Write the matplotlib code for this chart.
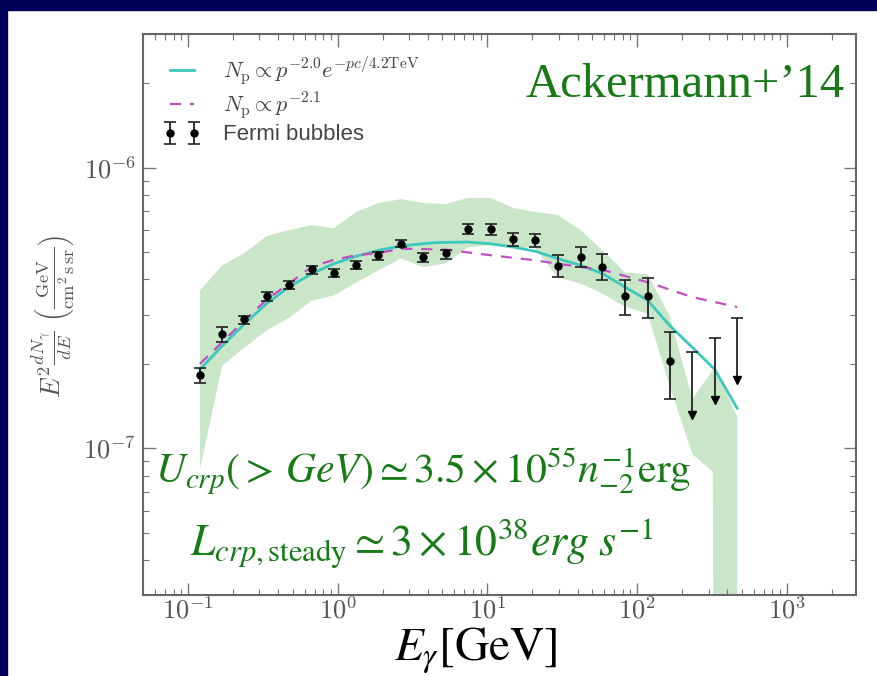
import numpy as np
import matplotlib.pyplot as plt
from matplotlib.patches import Rectangle
from matplotlib.ticker import FixedLocator, FuncFormatter, LogLocator, NullFormatter

plt.rcParams['mathtext.fontset'] = 'cm'

# Fermi bubbles spectrum, E [GeV] and E^2 dN/dE [GeV cm^-2 s^-1 sr^-1]
energy = [0.120, 0.169, 0.237, 0.335, 0.473, 0.668, 0.94, 1.33, 1.87, 2.66, 3.72,
          5.27, 7.43, 10.5, 14.9, 20.9, 29.5, 41.9, 58.7, 82.8, 117.7, 165]
flux = [1.82e-7, 2.56e-7, 2.89e-7, 3.50e-7, 3.83e-7, 4.35e-7, 4.21e-7, 4.50e-7,
        4.88e-7, 5.37e-7, 4.81e-7, 4.95e-7, 6.04e-7, 6.04e-7, 5.57e-7, 5.52e-7,
        4.45e-7, 4.81e-7, 4.43e-7, 3.48e-7, 3.48e-7, 2.05e-7]
flux_lo = [1.71e-7, 2.40e-7, 2.78e-7, 3.36e-7, 3.71e-7, 4.19e-7, 4.08e-7, 4.35e-7,
           4.68e-7, 5.20e-7, 4.62e-7, 4.75e-7, 5.80e-7, 5.75e-7, 5.27e-7, 5.20e-7,
           4.08e-7, 4.43e-7, 3.97e-7, 2.99e-7, 2.92e-7, 1.50e-7]
flux_hi = [1.93e-7, 2.70e-7, 2.97e-7, 3.60e-7, 3.95e-7, 4.47e-7, 4.37e-7, 4.64e-7,
           5.01e-7, 5.55e-7, 4.97e-7, 5.11e-7, 6.30e-7, 6.30e-7, 5.88e-7, 5.83e-7,
           4.88e-7, 5.22e-7, 4.91e-7, 3.97e-7, 4.04e-7, 2.59e-7]

# upper limits in the last bins
ul_energy = [234, 330, 466]
ul_flux = [2.20e-7, 2.47e-7, 2.92e-7]

# systematic band
band_energy = [0.120, 0.169, 0.237, 0.335, 0.473, 0.668, 0.94, 1.33, 1.87, 2.66,
               3.72, 5.27, 7.43, 10.5, 14.9, 20.9, 29.5, 41.9, 58.7, 82.8, 117.7,
               165, 234, 320, 330, 466]
band_hi = [3.65e-7, 4.49e-7, 4.96e-7, 5.71e-7, 6.00e-7, 6.25e-7, 6.09e-7, 6.96e-7,
           7.49e-7, 7.74e-7, 7.49e-7, 7.43e-7, 7.81e-7, 7.81e-7, 7.19e-7, 6.96e-7,
           6.79e-7, 6.00e-7, 5.08e-7, 4.24e-7, 4.17e-7, 2.97e-7, 1.50e-7, 1.90e-7,
           1.94e-7, 1.30e-7]
band_lo = [8.41e-8, 1.97e-7, 2.28e-7, 2.63e-7, 2.92e-7, 3.36e-7, 3.51e-7, 3.90e-7,
           4.31e-7, 4.76e-7, 4.42e-7, 4.57e-7, 5.21e-7, 5.30e-7, 5.21e-7, 5.17e-7,
           4.07e-7, 3.87e-7, 3.56e-7, 3.20e-7, 3.02e-7, 1.67e-7, 9.52e-8, 8.27e-8,
           1e-9, 1e-9]

# proton spectrum models
cut_energy = [0.120, 0.169, 0.237, 0.335, 0.473, 0.668, 0.94, 1.33, 1.87, 2.66,
              4.44, 7.43, 10.5, 14.9, 20.9, 29.5, 41.9, 58.7, 82.8, 117.7, 165,
              234, 330, 466]
cut_flux = [1.91e-7, 2.32e-7, 2.77e-7, 3.28e-7, 3.76e-7, 4.19e-7, 4.55e-7, 4.84e-7,
            5.08e-7, 5.27e-7, 5.41e-7, 5.44e-7, 5.36e-7, 5.22e-7, 5.04e-7, 4.75e-7,
            4.49e-7, 4.20e-7, 3.76e-7, 3.37e-7, 2.74e-7, 2.29e-7, 1.91e-7, 1.39e-7]
pl_energy = [0.120, 0.237, 0.335, 0.473, 0.668, 0.94, 1.33, 1.87, 2.66, 5.27, 10.5,
             20.9, 29.5, 58.7, 117.7, 234, 466]
pl_flux = [2.00e-7, 2.85e-7, 3.39e-7, 3.87e-7, 4.43e-7, 4.70e-7, 4.88e-7, 4.97e-7,
           5.15e-7, 5.11e-7, 4.88e-7, 4.68e-7, 4.55e-7, 4.33e-7, 3.91e-7, 3.46e-7,
           3.19e-7]

W, H = 877, 676
fig = plt.figure(figsize=(W / 100, H / 100), dpi=100)
fig.patch.set_facecolor('white')
navy = '#00005a'
fig.add_artist(Rectangle((0, 0), 7 / W, 1, transform=fig.transFigure, color=navy, zorder=0))
fig.add_artist(Rectangle((0, 1 - 10 / H), 1, 10 / H, transform=fig.transFigure, color=navy, zorder=0))

ax = fig.add_axes([143 / W, 1 - 595 / H, (856 - 143) / W, (595 - 34) / H])
ax.set_xscale('log')
ax.set_yscale('log')
ax.set_xlim(0.05, 2900)
ax.set_ylim(3e-8, 3e-6)

ax.fill_between(band_energy, band_lo, band_hi, color='#c9e6c9', lw=0, zorder=1)

ax.plot(cut_energy, cut_flux, color='#3cc8bc', lw=2,
        label=r'$N_{\rm p}\propto p^{-2.0}e^{-pc/4.2{\rm TeV}}$', zorder=3)
ax.plot(pl_energy, pl_flux, color='#c050c0', lw=1.6, ls=(0, (5, 4)),
        label=r'$N_{\rm p}\propto p^{-2.1}$', zorder=3)

flux = np.array(flux)
yerr = [flux - np.array(flux_lo), np.array(flux_hi) - flux]
ax.errorbar(energy, flux, yerr=yerr, fmt='o', color='black', ms=5,
            ecolor='#222222', elinewidth=1.3, capsize=4, capthick=1.2,
            label='Fermi bubbles', zorder=4)

ul_flux = np.array(ul_flux)
ul_tip = ul_flux * 0.6
ax.vlines(ul_energy, ul_tip, ul_flux, color='#222222', lw=1.3, zorder=4)
ax.plot(ul_energy, ul_flux, ls='none', marker='_', ms=8, mew=1.2, color='#222222', zorder=4)
ax.plot(ul_energy, ul_tip, ls='none', marker='v', ms=6, color='black', zorder=4)

leg = ax.legend(loc='upper left', frameon=False, numpoints=2, fontsize=16,
                handlelength=1.7, handletextpad=1.0, labelspacing=0.15,
                borderpad=0.3, borderaxespad=0.4, bbox_to_anchor=(0.006, 0.99))
for t in leg.get_texts():
    t.set_color('#444444')
leg.get_texts()[2].set_family('Liberation Sans')

# axis styling
gray = '#555555'
for s in ax.spines.values():
    s.set_color('#666666')
    s.set_linewidth(1.5)
ax.xaxis.set_major_locator(FixedLocator([0.1, 1, 10, 100, 1000]))
ax.xaxis.set_minor_locator(LogLocator(base=10, subs=np.arange(2, 10), numticks=20))
ax.yaxis.set_major_locator(FixedLocator([1e-7, 1e-6]))
ax.yaxis.set_minor_locator(LogLocator(base=10, subs=np.arange(2, 10), numticks=20))
fmt = FuncFormatter(lambda v, p: r'$10^{%d}$' % int(round(np.log10(v))))
ax.xaxis.set_major_formatter(fmt)
ax.yaxis.set_major_formatter(fmt)
ax.xaxis.set_minor_formatter(NullFormatter())
ax.yaxis.set_minor_formatter(NullFormatter())
ax.tick_params(which='both', direction='in', top=True, right=True, colors='#777777',
               labelcolor=gray, labelsize=19)
ax.tick_params(which='major', length=9, width=1)
ax.tick_params(which='minor', length=4.5, width=0.8)
ax.tick_params(axis='x', pad=2)
ax.tick_params(axis='y', pad=5)

fig.text(53 / W, 1 - 317 / H,
         r'$E^2\frac{dN_\gamma}{dE}\ \left(\frac{\rm GeV}{\rm cm^2\,s\,sr}\right)$',
         rotation=90, ha='center', va='center', fontsize=19, color=gray)
fig.text(476 / W, 1 - 626 / H, r'$E_\gamma[\mathrm{GeV}]$', ha='center', va='top',
         fontsize=34, color='black', math_fontfamily='stix')

green = '#177a17'
fig.text(525 / W, 1 - 97 / H, 'Ackermann+\u201914', ha='left', va='baseline',
         family='Liberation Serif', fontsize=35, color=green)
fig.text(155 / W, 1 - 482 / H,
         r'$U_{crp}(>\,GeV)\simeq 3.5\times10^{55}n_{-2}^{-1}\mathrm{erg}$',
         ha='left', va='baseline', fontsize=30, color=green, math_fontfamily='stix')
fig.text(190 / W, 1 - 556 / H,
         r'$L_{crp,\mathrm{steady}}\simeq 3\times10^{38}erg\ s^{-1}$',
         ha='left', va='baseline', fontsize=31.5, color=green, math_fontfamily='stix')

fig.savefig('out.png', dpi=100)
